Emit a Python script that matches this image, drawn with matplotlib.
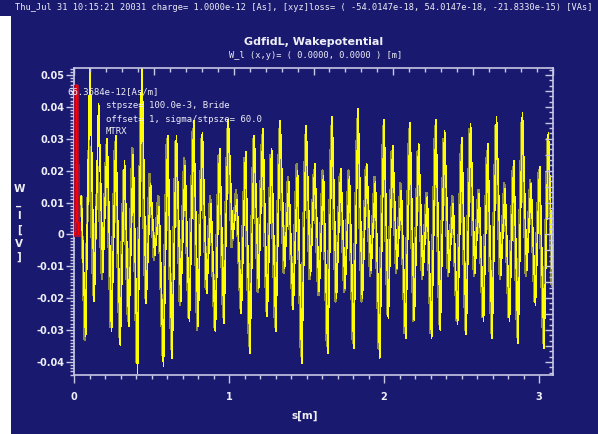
# GdfidL longitudinal wake potential plot, navy panel style

import numpy as np
import matplotlib
matplotlib.use("Agg")
import matplotlib.pyplot as plt
from matplotlib.patches import Rectangle
from matplotlib.ticker import MultipleLocator, NullFormatter

# ---------------------------------------------------------------------
# data: wake potential extrema (alternating trough / peak)
# ---------------------------------------------------------------------
W_LEAD_S = [0.0, 0.047]
W_LEAD_V = [0.0, 0.012]

W_PEAKS = [
    0.056, 0.041, 0.030, 0.031, 0.023, 0.025, 0.056, 0.016, 0.0086, 0.031,
    0.031, 0.0216, 0.0356, 0.032, 0.0096, 0.027, 0.036, 0.011, 0.026, 0.031,
    0.033, 0.027, 0.0356, 0.0164, 0.020, 0.034,
    0.022, 0.0185, 0.037, 0.0206, 0.018, 0.0393, 0.022, 0.0164, 0.036, 0.0278,
    0.0138, 0.035, 0.0283, 0.0117, 0.036, 0.0325, 0.0096, 0.0304, 0.0346, 0.0128,
    0.0283, 0.037, 0.0143, 0.0232, 0.0382, 0.0159, 0.0211, 0.032,
]
W_TROUGHS = [
    -0.032, -0.021, -0.0117, -0.0304, -0.0346, -0.0288, -0.0434, -0.0216, -0.0065, -0.0413,
    -0.0387, -0.021, -0.0273, -0.0288, -0.0184, -0.0304, -0.0278, -0.0013, -0.0247, -0.0372,
    -0.0169, -0.0257, -0.0304, -0.0106, -0.0236, -0.0403, -0.0127,
    -0.0179, -0.0372, -0.020, -0.0169, -0.0356, -0.020, -0.0112, -0.0387, -0.0262, -0.0106,
    -0.0325, -0.0268, -0.0127, -0.0325, -0.0299, -0.0117, -0.0283, -0.0314, -0.0122, -0.0273,
    -0.0325, -0.0127, -0.0273, -0.0340, -0.0112, -0.0221, -0.0356, -0.0148,
]

# second trace (drawn dimmer and wider)
W2_PEAKS = [
    0.030, 0.021, 0.028, 0.029, 0.020, 0.027, 0.044, 0.019, 0.012, 0.030,
    0.029, 0.024, 0.033, 0.030, 0.012, 0.025, 0.033, 0.014, 0.024, 0.030,
    0.031, 0.025, 0.033, 0.018, 0.022, 0.031,
    0.020, 0.020, 0.034, 0.019, 0.020, 0.036, 0.021, 0.018, 0.034, 0.026,
    0.016, 0.033, 0.026, 0.013, 0.034, 0.030, 0.012, 0.028, 0.033, 0.014,
    0.026, 0.034, 0.016, 0.021, 0.035, 0.017, 0.020, 0.030,
]
W2_TROUGHS = [
    -0.033, -0.019, -0.014, -0.029, -0.032, -0.027, -0.040, -0.020, -0.008, -0.038,
    -0.036, -0.022, -0.026, -0.030, -0.017, -0.029, -0.026, -0.004, -0.023, -0.035,
    -0.018, -0.024, -0.029, -0.012, -0.022, -0.038, -0.014,
    -0.019, -0.035, -0.021, -0.018, -0.034, -0.021, -0.013, -0.036, -0.025, -0.012,
    -0.031, -0.027, -0.014, -0.031, -0.028, -0.013, -0.027, -0.030, -0.013, -0.026,
    -0.031, -0.014, -0.026, -0.032, -0.013, -0.021, -0.034, -0.016,
]

# bunch charge density near s = 0
BUNCH_S = [0.0, 0.0045, 0.009, 0.0135, 0.018, 0.0225, 0.027]
BUNCH_V = [0.0, 0.0007, 0.004, 0.047, 0.022, 0.004, 0.0]

S_START = 0.075
S_STEP = 0.0279
S_SHIFT2 = -0.006

NAVY = "#191970"
FRAME = "#c8c8e4"
TXT = "#eeeef6"


def interleave(troughs, peaks):
    vals = np.empty(len(troughs) + len(peaks))
    vals[0::2] = troughs
    vals[1::2] = peaks
    return vals


def px(x, y):
    """pixel position -> figure fraction"""
    return x / 598, 1 - y / 434


def main():
    fig = plt.figure(figsize=(5.98, 4.34), dpi=100, facecolor=NAVY)
    fig.patches.append(Rectangle((0, 0), 11 / 598, 1 - 16 / 434, transform=fig.transFigure,
                                 facecolor="white", edgecolor="none", zorder=0))

    ax = fig.add_axes([74 / 598, 59 / 434, 479 / 598, 307 / 434])
    ax.set_facecolor(NAVY)

    body = interleave(W_TROUGHS, W_PEAKS)
    w = np.concatenate([W_LEAD_V, body])
    s = np.concatenate([W_LEAD_S, S_START + S_STEP * np.arange(len(body))])
    body2 = interleave(W2_TROUGHS, W2_PEAKS)
    w2 = np.concatenate([W_LEAD_V, body2])
    s2 = np.concatenate([W_LEAD_S, S_START + S_SHIFT2 + S_STEP * np.arange(len(body2))])

    # thin unsmoothed lines: steep segments come out as pixel stairs
    ax.plot(s2, w2, color="#8c8c44", lw=1.1, antialiased=False, zorder=2)
    ax.plot(s, w, color="#ffff00", lw=0.5, antialiased=False, zorder=3)
    ax.plot(BUNCH_S, BUNCH_V, drawstyle="steps-mid", color="#a0103c", lw=2.2,
            antialiased=False, zorder=4)
    ax.plot(BUNCH_S, BUNCH_V, drawstyle="steps-mid", color="#ff0000", lw=0.5,
            antialiased=False, zorder=5)

    ax.set_xlim(0, 3.09)
    ax.set_ylim(-0.0441, 0.0522)

    for side in ("top", "right"):
        ax.spines[side].set_visible(False)
    for side in ("left", "bottom"):
        ax.spines[side].set_color(FRAME)
        ax.spines[side].set_linewidth(1.2)

    ax.xaxis.set_major_locator(MultipleLocator(1))
    ax.xaxis.set_minor_locator(MultipleLocator(0.1))
    ax.yaxis.set_major_locator(MultipleLocator(0.01))
    ax.yaxis.set_minor_locator(MultipleLocator(0.001))
    ax.tick_params(which="both", direction="out", color=FRAME, width=1)
    ax.tick_params(which="major", length=6)
    ax.tick_params(which="minor", length=3)
    ax.tick_params(axis="x", which="major", pad=6)
    ax.tick_params(axis="y", which="major", pad=1)
    ax.set_xticks([0, 1, 2, 3])
    ax.set_xticklabels(["0", "1", "2", "3"])
    ax.set_yticks([-0.04, -0.03, -0.02, -0.01, 0, 0.01, 0.02, 0.03, 0.04, 0.05])
    ax.set_yticklabels(["-0.04", "-0.03", "-0.02", "-0.01", "0",
                        "0.01", "0.02", "0.03", "0.04", "0.05"])
    for lab in ax.get_xticklabels() + ax.get_yticklabels():
        lab.set_color(TXT)
        lab.set_fontsize(7)
        lab.set_fontweight("bold")

    # frame ticks on top and right edges
    top = ax.twiny()
    top.set_xlim(0, 30)
    top.xaxis.set_major_locator(MultipleLocator(5))
    top.xaxis.set_minor_locator(MultipleLocator(1))
    top.xaxis.set_major_formatter(NullFormatter())
    top.tick_params(which="both", direction="in", color=FRAME, width=1)
    top.tick_params(which="major", length=5)
    top.tick_params(which="minor", length=3)
    right = ax.twinx()
    right.set_ylim(ax.get_ylim())
    right.yaxis.set_major_locator(MultipleLocator(0.005))
    right.yaxis.set_minor_locator(MultipleLocator(0.005 / 3))
    right.yaxis.set_major_formatter(NullFormatter())
    right.tick_params(which="both", direction="in", color=FRAME, width=1)
    right.tick_params(which="major", length=6)
    right.tick_params(which="minor", length=3)
    for a in (top, right):
        for sp in a.spines.values():
            sp.set_visible(False)
    top.spines["top"].set_visible(True)
    top.spines["top"].set_color(FRAME)
    top.spines["top"].set_linewidth(1.2)
    right.spines["right"].set_visible(True)
    right.spines["right"].set_color(FRAME)
    right.spines["right"].set_linewidth(1.2)

    # header lines
    mono = "DejaVu Sans Mono"
    fig.text(*px(15, 7), "Thu_Jul 31 10:15:21 20031 charge= 1.0000e-12 [As], "
             "[xyz]loss= ( -54.0147e-18, 54.0147e-18, -21.8330e-15) [VAs]",
             family=mono, fontsize=6.2, color=TXT, va="center", ha="left")
    fig.text(*px(314, 42), "GdfidL, Wakepotential", fontsize=8, fontweight="bold",
             color=TXT, ha="center", va="center")
    fig.text(*px(316, 56), "W_l (x,y)= ( 0.0000, 0.0000 ) [m]", family=mono,
             fontsize=6.2, color=TXT, ha="center", va="center")

    # annotation block inside the panel
    fig.text(*px(67, 92), "66.3684e-12[As/m]", family=mono, fontsize=6.5,
             color=TXT, ha="left", va="center", zorder=10)
    for y, line in ((105, "stpsze= 100.0e-3, Bride"),
                    (119, "offset= 1, sigma/stpsze= 60.0"),
                    (131, "MTRX")):
        fig.text(*px(106, y), line, family=mono, fontsize=6.5, color=TXT,
                 ha="left", va="center", zorder=10)

    # axis labels
    fig.text(*px(305, 416), "s[m]", fontsize=7.5, fontweight="bold", color=TXT,
             ha="center", va="center")
    fig.text(*px(19, 223), "W\n_\nl\n[\nV\n]", fontsize=7.5, fontweight="bold",
             color=TXT, ha="center", va="center", linespacing=1.45)

    fig.savefig("out.png", dpi=100, facecolor=NAVY)
    plt.close(fig)


if __name__ == "__main__":
    main()
